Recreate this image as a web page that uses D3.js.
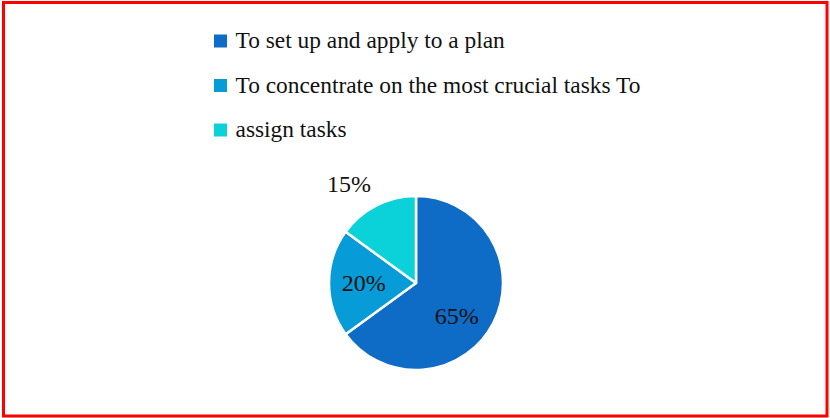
<!DOCTYPE html>
<html>
<head>
<meta charset="utf-8">
<script src="https://cdn.jsdelivr.net/npm/d3@7"></script>
<style>
  html, body { margin: 0; padding: 0; background: #fff; }
  svg { display: block; }
</style>
</head>
<body>
<svg id="chart" width="830" height="418"></svg>
<script>
// Share of respondents per planning approach
const categories = [
  "To set up and apply to a plan",
  "To concentrate on the most crucial tasks To",
  "assign tasks"
];
const values = [65, 20, 15];
const labels = ["65%", "20%", "15%"];
const colors = ["#0f6cc6", "#079bd7", "#0bd2d9"];

const svg = d3.select("#chart");
const W = 830, H = 418;
const font = "Liberation Serif";

// outer frame
svg.append("rect")
  .attr("x", 3.5).attr("y", 2.5)
  .attr("width", W - 6.5).attr("height", H - 4.5)
  .attr("fill", "#fff")
  .attr("stroke", "#ff0000")
  .attr("stroke-width", 3);

// legend
const legendY = d3.scalePoint().domain(d3.range(categories.length)).range([48, 137]);
const leg = svg.append("g");
categories.forEach((c, i) => {
  const y = legendY(i);
  leg.append("rect")
    .attr("x", 214).attr("y", y - 13.5)
    .attr("width", 13).attr("height", 13)
    .attr("fill", colors[i]);
  leg.append("text")
    .attr("x", 235.5).attr("y", y)
    .style("font-family", font)
    .attr("font-size", 23.4)
    .attr("fill", "#111")
    .text(c);
});

// pie
const cx = 416, cy = 283, R = 87;
const pie = d3.pie().sort(null).value(d => d)(values);
const arc = d3.arc().innerRadius(0).outerRadius(R);
const g = svg.append("g").attr("transform", `translate(${cx},${cy})`);

g.selectAll("path")
  .data(pie)
  .join("path")
  .attr("d", arc)
  .attr("fill", (d, i) => colors[i])
  .attr("stroke", "#fff")
  .attr("stroke-width", 2.5)
  .attr("stroke-linejoin", "round");

// labels: inside for large slices, outside for the small one
function labelPos(d, i) {
  if (i === 2) {
    const a = d.startAngle + (d.endAngle - d.startAngle) * 0.37;
    const r = R * 1.375;
    return [Math.sin(a) * r, -Math.cos(a) * r];
  }
  const a = i === 0 ? d.startAngle + (d.endAngle - d.startAngle) * 0.55 : (d.startAngle + d.endAngle) / 2;
  const r = R * 0.6;
  return [Math.sin(a) * r, -Math.cos(a) * r];
}
g.selectAll("text.lbl")
  .data(pie)
  .join("text")
  .attr("class", "lbl")
  .attr("transform", (d, i) => `translate(${labelPos(d, i)})`)
  .attr("dy", "0.34em")
  .attr("text-anchor", "middle")
  .style("font-family", font)
  .attr("font-size", 24)
  .attr("fill", "#111")
  .text((d, i) => labels[i]);
</script>
</body>
</html>
